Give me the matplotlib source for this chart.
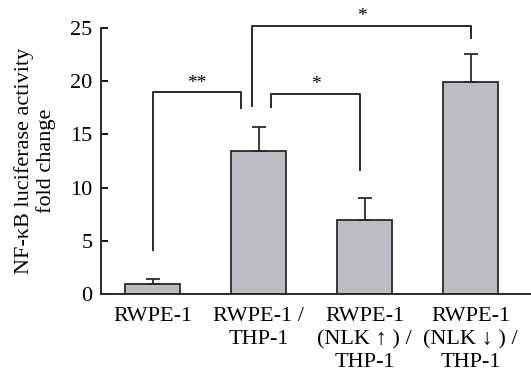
import numpy as np
import matplotlib
matplotlib.use('Agg')
import matplotlib.pyplot as plt

plt.rcParams['font.family'] = ['Liberation Serif', 'DejaVu Sans']

# datos
grupos = ['RWPE-1', 'RWPE-1 /\nTHP-1', 'RWPE-1\n(NLK \u2191 ) /\nTHP-1', 'RWPE-1\n(NLK \u2193 ) /\nTHP-1']
medias = [0.97, 13.4, 6.95, 19.9]
errores = [0.41, 2.3, 2.05, 2.7]

# corchetes de significancia: (x izq, y izq, x der, y der, y arriba, texto)
corchetes = [
    (0.0, 4.1, 0.83, 17.45, 18.95, '**'),
    (1.12, 17.6, 1.96, 11.65, 18.8, '*'),
    (0.94, 17.7, 3.0, 24.1, 25.2, '*'),
]

fig = plt.figure(figsize=(5.31, 3.76), dpi=100)
ax = fig.add_axes([0.19, 0.218, 0.81, 0.7075])

x = np.arange(len(grupos))
ax.bar(x, medias, width=0.52, color='#bcbdc1', edgecolor='#2a2a2a', linewidth=1.3, zorder=2)
ax.errorbar(x, medias, yerr=[np.zeros(len(errores)), errores], fmt='none',
            ecolor='#2a2a2a', elinewidth=1.3, capsize=5, capthick=1.3, zorder=3)

for x1, y1, x2, y2, ytop, txt in corchetes:
    ax.plot([x1, x1, x2, x2], [y1, ytop, ytop, y2], color='#2a2a2a', lw=1.4, clip_on=False)
    ax.text((x1 + x2) / 2, ytop + 0.05, txt, ha='center', va='bottom', fontsize=14)

ax.set_xlim(-0.49, 3.57)
ax.set_ylim(0, 25)
ax.set_yticks([0, 5, 10, 15, 20, 25])
ax.set_xticks(x)
ax.set_xticklabels(grupos, fontsize=16, linespacing=1.3)
ax.tick_params(axis='both', direction='in', length=5, width=1.3, labelsize=16)
ax.tick_params(axis='x', pad=9)
ax.tick_params(axis='y', pad=6)
for s in ['top', 'right']:
    ax.spines[s].set_visible(False)
for s in ['left', 'bottom']:
    ax.spines[s].set_linewidth(1.4)
    ax.spines[s].set_color('#2a2a2a')

ax.set_ylabel('NF-\u03baB luciferase activity\nfold change', fontsize=16, linespacing=1.15)
ax.yaxis.set_label_coords(-0.105, 0.5)

fig.savefig('out.png', dpi=100)
